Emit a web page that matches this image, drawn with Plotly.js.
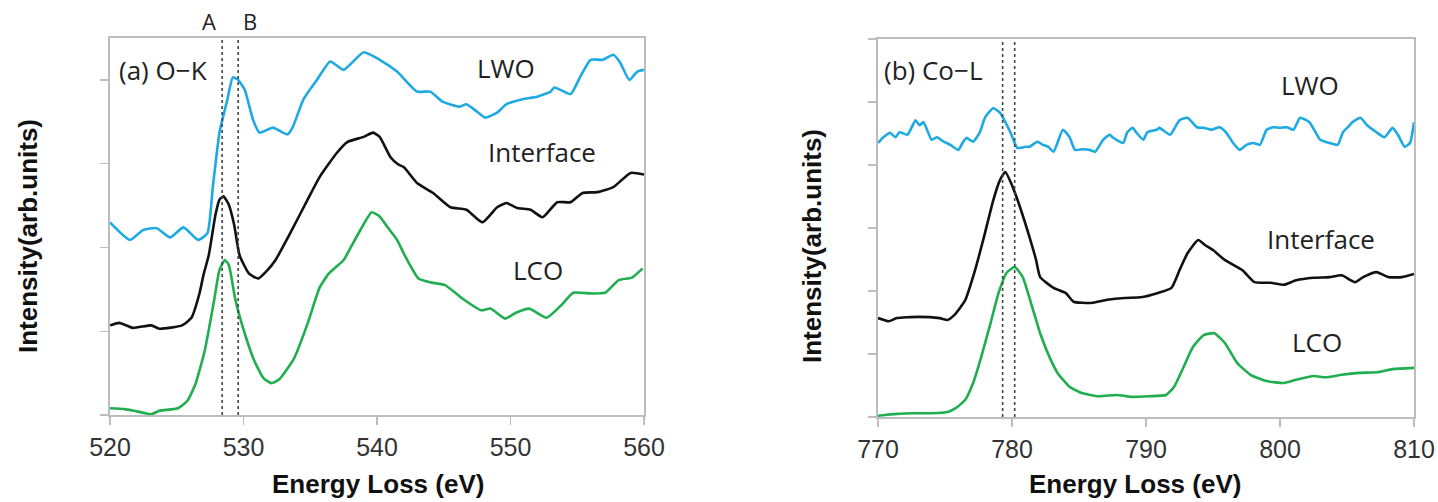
<!DOCTYPE html>
<html>
<head>
<meta charset="utf-8">
<script src="https://cdn.plot.ly/plotly-3.0.1.min.js"></script>
<style>
  html, body { margin: 0; padding: 0; background: #ffffff; }
  #chart { width: 1438px; height: 502px; }
</style>
</head>
<body>
<div id="chart"></div>
<script>
// ---- O-K edge spectra (panel a) ----
const okLwoE = [520.0,521.5,522.5,523.5,524.5,525.5,526.6,527.3,527.7,528.2,528.8,529.2,529.6,530.1,530.7,531.2,532.2,533.3,533.7,534.5,535.5,536.5,537.5,539.0,540.2,541.5,543.0,544.0,544.9,546.2,546.7,547.5,548.1,549.0,549.7,550.9,552.0,553.0,553.3,554.5,555.2,556.0,556.9,557.7,558.2,558.9,559.5,560.0];
const okLwoI = [2.30,2.09,2.21,2.23,2.12,2.24,2.09,2.17,2.72,3.37,3.77,4.03,4.00,3.88,3.53,3.37,3.43,3.35,3.44,3.77,4.00,4.22,4.12,4.33,4.24,4.10,3.86,3.86,3.74,3.68,3.71,3.62,3.55,3.61,3.71,3.77,3.80,3.86,3.91,3.83,4.03,4.24,4.24,4.30,4.21,4.00,4.10,4.12];

const okIfE = [520.0,520.7,521.7,523.1,523.7,525.4,526.1,526.7,527.0,527.4,527.9,528.2,528.5,528.9,529.3,529.7,530.4,531.1,531.8,532.4,533.5,534.8,535.7,537.0,537.8,539.0,539.7,540.2,541.0,541.6,542.0,543.0,544.2,545.5,546.7,547.9,549.0,549.7,550.5,551.5,552.4,553.5,554.5,555.4,556.5,557.7,559.0,560.0];
const okIfI = [1.07,1.10,1.04,1.07,1.03,1.07,1.16,1.45,1.67,1.91,2.39,2.57,2.61,2.51,2.27,1.91,1.69,1.63,1.73,1.85,2.17,2.57,2.84,3.13,3.26,3.32,3.37,3.32,3.08,2.99,2.96,2.77,2.65,2.48,2.45,2.30,2.48,2.53,2.47,2.45,2.36,2.54,2.54,2.65,2.66,2.72,2.89,2.87];

const okLcoE = [520.0,521.1,521.8,523.1,523.7,525.1,525.8,526.4,527.1,527.8,528.2,528.6,528.9,529.4,530.1,530.8,531.5,532.1,532.7,533.8,534.8,535.7,536.4,537.5,538.2,538.8,539.6,540.2,540.8,541.5,542.0,542.4,543.1,544.1,545.1,546.4,547.8,548.5,549.6,550.4,551.4,552.7,553.8,554.7,556.1,557.1,558.1,559.1,559.9];
const okLcoI = [0.08,0.07,0.05,0.01,0.05,0.08,0.17,0.37,0.77,1.37,1.73,1.85,1.79,1.37,0.97,0.65,0.44,0.38,0.43,0.68,1.09,1.52,1.69,1.85,2.05,2.22,2.42,2.37,2.24,2.09,1.93,1.81,1.63,1.58,1.55,1.39,1.25,1.27,1.15,1.22,1.27,1.16,1.31,1.46,1.45,1.46,1.61,1.64,1.75];

// ---- Co-L edge spectra (panel b) ----
const coLwoE = [770.0,770.4,770.9,771.3,771.6,772.2,772.8,773.1,773.4,774.0,774.4,774.9,775.4,776.0,776.3,776.6,777.1,777.6,778.0,778.6,779.1,779.9,780.4,781.0,781.3,781.9,782.3,782.7,783.1,783.8,784.3,784.7,785.3,785.8,786.2,786.8,787.3,787.5,788.3,788.6,789.0,789.3,789.8,790.1,790.8,791.0,791.8,792.5,793.1,793.8,794.3,794.9,795.5,796.0,796.5,797.0,797.5,798.0,798.5,799.0,799.5,800.0,800.5,801.0,801.5,802.2,803.0,803.7,804.3,804.7,805.2,805.4,806.0,806.5,807.2,807.8,808.4,808.8,809.3,809.7,810.0];
const coLwoI = [4.35,4.44,4.51,4.44,4.52,4.48,4.71,4.63,4.68,4.40,4.44,4.37,4.32,4.24,4.35,4.43,4.37,4.52,4.76,4.90,4.83,4.51,4.27,4.29,4.29,4.37,4.32,4.29,4.21,4.56,4.44,4.24,4.25,4.24,4.21,4.40,4.48,4.44,4.35,4.52,4.59,4.51,4.40,4.52,4.56,4.59,4.48,4.71,4.75,4.60,4.59,4.56,4.60,4.51,4.35,4.24,4.32,4.35,4.32,4.56,4.60,4.59,4.60,4.56,4.75,4.68,4.40,4.35,4.32,4.52,4.63,4.68,4.75,4.63,4.52,4.44,4.59,4.48,4.29,4.35,4.68];

const coIfE = [770.0,770.8,771.4,773.0,774.6,775.2,775.7,776.5,777.2,777.9,778.6,779.1,779.5,780.0,780.6,781.3,781.8,782.1,783.1,784.0,784.6,785.9,787.1,788.4,789.6,790.9,791.9,792.5,793.1,793.9,794.4,795.0,795.9,797.2,798.1,799.3,800.3,801.2,802.5,803.7,804.6,805.6,806.2,807.2,808.1,809.1,810.0];
const coIfI = [1.57,1.52,1.57,1.59,1.57,1.54,1.62,1.85,2.30,2.85,3.44,3.76,3.89,3.68,3.33,2.86,2.49,2.22,2.05,1.97,1.83,1.81,1.86,1.89,1.90,1.97,2.05,2.33,2.60,2.81,2.73,2.65,2.49,2.33,2.14,2.13,2.10,2.17,2.21,2.22,2.25,2.14,2.22,2.30,2.22,2.22,2.27];

const coLcoE = [770.0,771.4,772.7,774.0,775.2,775.8,776.5,777.1,777.7,778.4,779.0,779.6,780.2,780.8,781.5,782.1,782.8,783.4,784.3,785.2,786.5,787.8,789.0,790.2,791.5,792.1,792.8,793.5,794.3,795.1,795.9,796.8,797.8,799.0,800.3,801.2,802.5,803.4,804.6,805.9,807.2,808.4,810.0];
const coLcoI = [0.02,0.05,0.06,0.06,0.08,0.14,0.27,0.54,0.95,1.49,1.97,2.29,2.38,2.22,1.75,1.33,0.95,0.70,0.48,0.38,0.33,0.35,0.32,0.33,0.35,0.48,0.79,1.11,1.30,1.33,1.17,0.86,0.67,0.57,0.54,0.59,0.65,0.63,0.67,0.70,0.71,0.76,0.78];

// reference energies marked by dotted lines
const okMarks = [528.4, 529.6];
const coMarks = [779.3, 780.2];
const okMarkNames = ["A", "B"];

const seriesNames = ["LWO", "Interface", "LCO"];
const seriesColors = ["#1fa9e3", "#111111", "#1fae50"];

const W = 1438, H = 502;
const px = v => v / W;
const py = v => 1 - v / H;

function line(x, y, i, xa, ya) {
  return {
    x: x, y: y, xaxis: xa, yaxis: ya, type: "scatter", mode: "lines",
    name: seriesNames[i],
    line: { color: seriesColors[i], width: 2.6, shape: "spline", smoothing: 0.5 },
    hoverinfo: "x+y+name"
  };
}

const traces = [
  line(okLwoE, okLwoI, 0, "x", "y"),
  line(okIfE, okIfI, 1, "x", "y"),
  line(okLcoE, okLcoI, 2, "x", "y"),
  line(coLwoE, coLwoI, 0, "x2", "y2"),
  line(coIfE, coIfI, 1, "x2", "y2"),
  line(coLcoE, coLcoI, 2, "x2", "y2")
];

const axisGrey = "#bdbdbd";
const tickFont = { family: "Liberation Sans, Arial, sans-serif", size: 25, color: "#333333" };

function xAxis(domain, range, anchor) {
  return {
    domain: domain, range: range, anchor: anchor,
    tickmode: "linear", tick0: range[0], dtick: 10,
    showgrid: false, zeroline: false,
    showline: true, linecolor: axisGrey, linewidth: 1.6, mirror: true,
    ticks: "outside", ticklen: 8, tickwidth: 1.4, tickcolor: axisGrey,
    tickfont: tickFont, ticklabelstandoff: 1
  };
}
function yAxis(domain, range, dtick, anchor) {
  return {
    domain: domain, range: range, anchor: anchor,
    tickmode: "linear", tick0: 0, dtick: dtick,
    showgrid: false, zeroline: false, showticklabels: false,
    showline: true, linecolor: axisGrey, linewidth: 1.6, mirror: true,
    ticks: "outside", ticklen: 8, tickwidth: 1.4, tickcolor: axisGrey
  };
}

const shapes = [];
okMarks.forEach(e => shapes.push({
  type: "line", xref: "x", yref: "y domain", x0: e, x1: e, y0: 0, y1: 1,
  line: { color: "#444444", width: 1.6, dash: "dot" }
}));
coMarks.forEach(e => shapes.push({
  type: "line", xref: "x2", yref: "y2 domain", x0: e, x1: e, y0: 0, y1: 1,
  line: { color: "#444444", width: 1.6, dash: "dot" }
}));

const labelFont = { family: "Open Sans, Noto Sans, sans-serif", size: 26, color: "#222222" };
const titleFont = { family: "Liberation Sans, Arial, sans-serif", size: 26, color: "#111111", weight: "bold" };

function note(text, x, y, font, extra) {
  return Object.assign({
    text: text, xref: "paper", yref: "paper", x: px(x), y: py(y),
    xanchor: "center", yanchor: "middle", showarrow: false, font: font
  }, extra || {});
}

const annotations = [
  note("(a) O\u2212K", 117, 70, labelFont, { xanchor: "left" }),
  note(seriesNames[0], 506, 68, labelFont),
  note(seriesNames[1], 542, 152, labelFont),
  note(seriesNames[2], 538, 270, labelFont),
  note(okMarkNames[0], 209, 21, Object.assign({}, labelFont, { size: 22 })),
  note(okMarkNames[1], 250, 21, Object.assign({}, labelFont, { size: 22 })),
  note("(b) Co\u2212L", 882, 70, labelFont, { xanchor: "left" }),
  note(seriesNames[0], 1310, 85, labelFont),
  note(seriesNames[1], 1321, 239, labelFont),
  note(seriesNames[2], 1317, 342, labelFont),
  note("Energy Loss (eV)", 378, 484, titleFont),
  note("Energy Loss (eV)", 1135, 484, titleFont),
  note("Intensity(arb.units)", 28, 236, titleFont, { textangle: -90 }),
  note("Intensity(arb.units)", 812, 246, titleFont, { textangle: -90 })
];

const layout = {
  width: W, height: H,
  margin: { l: 0, r: 0, t: 0, b: 0 },
  paper_bgcolor: "#ffffff", plot_bgcolor: "#ffffff",
  showlegend: false,
  xaxis: xAxis([px(110), px(644)], [520, 560], "y"),
  yaxis: yAxis([py(415), py(38)], [0, 4.5], 1, "x"),
  xaxis2: xAxis([px(878), px(1414)], [770, 810], "y2"),
  yaxis2: yAxis([py(417), py(39)], [0, 6], 1, "x2"),
  shapes: shapes,
  annotations: annotations
};

Plotly.newPlot("chart", traces, layout, { displayModeBar: false, staticPlot: true });
</script>
</body>
</html>
